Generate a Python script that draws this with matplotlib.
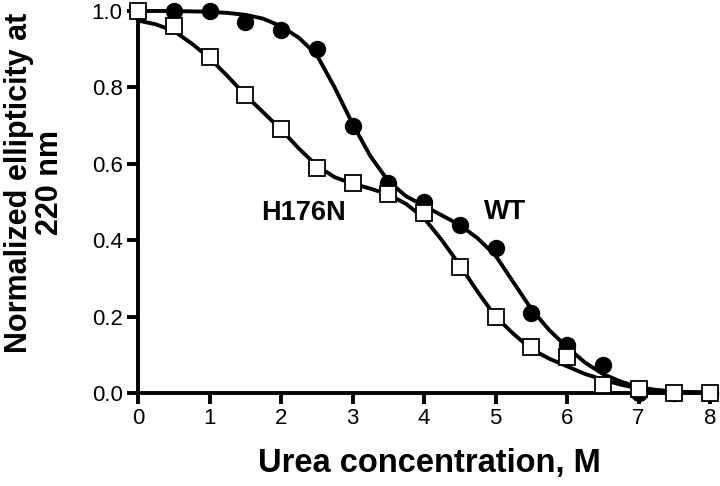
import matplotlib
matplotlib.use("Agg")
import matplotlib.pyplot as plt

plt.rcParams['font.family'] = ['Liberation Sans', 'DejaVu Sans']

# measured points
urea = [0, 0.5, 1, 1.5, 2, 2.5, 3, 3.5, 4, 4.5, 5, 5.5, 6, 6.5, 7, 7.5, 8]
wt = [1.0, 1.0, 1.0, 0.97, 0.95, 0.90, 0.70, 0.55, 0.50, 0.44, 0.38, 0.21, 0.125, 0.072, 0.0, 0.0, 0.0]
h176n = [1.0, 0.96, 0.88, 0.78, 0.69, 0.59, 0.55, 0.52, 0.47, 0.33, 0.20, 0.12, 0.095, 0.02, 0.01, 0.0, 0.0]

# fitted curves
fit_x = [0, 0.25, 0.5, 0.75, 1, 1.25, 1.5, 1.75, 2, 2.25, 2.5, 2.75, 3, 3.25, 3.5, 3.75,
         4, 4.25, 4.5, 4.75, 5, 5.25, 5.5, 5.75, 6, 6.25, 6.5, 6.75, 7, 7.25, 7.5, 7.75, 8]
wt_fit = [1.0, 1.0, 1.0, 0.999, 0.998, 0.995, 0.99, 0.98, 0.96, 0.93, 0.885, 0.80, 0.705, 0.62, 0.555, 0.515,
          0.49, 0.465, 0.44, 0.405, 0.36, 0.29, 0.22, 0.165, 0.12, 0.08, 0.05, 0.03, 0.015, 0.008, 0.004, 0.002, 0.001]
h176n_fit = [0.975, 0.965, 0.948, 0.915, 0.877, 0.83, 0.78, 0.735, 0.69, 0.64, 0.595, 0.565, 0.548, 0.535, 0.52, 0.495,
             0.458, 0.40, 0.335, 0.265, 0.20, 0.155, 0.115, 0.09, 0.07, 0.05, 0.035, 0.022, 0.012, 0.007, 0.003, 0.002, 0.001]

fig = plt.figure(figsize=(7.2, 4.86), dpi=100)
ax = fig.add_axes([138/720, 93/486, 572/720, 382/486])

ax.plot(fit_x, wt_fit, color='black', lw=2.8, clip_on=False, zorder=2)
ax.plot(fit_x, h176n_fit, color='black', lw=2.8, clip_on=False, zorder=2)
ax.plot(urea, wt, 'o', color='black', ms=11.5, clip_on=False, zorder=3)
ax.plot(urea, h176n, 's', mfc='white', mec='black', mew=1.3, ms=11.5, clip_on=False, zorder=4)

ax.text(2.31, 0.47, 'H176N', fontsize=19.5, fontweight='bold', ha='center', va='center')
ax.text(5.13, 0.474, 'WT', fontsize=19.5, fontweight='bold', ha='center', va='center')

ax.set_xlim(0, 8)
ax.set_ylim(0, 1.0)
ax.set_xticks(range(0, 9))
ax.set_yticks([0.0, 0.2, 0.4, 0.6, 0.8, 1.0])
ax.set_yticklabels(['0.0', '0.2', '0.4', '0.6', '0.8', '1.0'])

for s in ['top', 'right']:
    ax.spines[s].set_visible(False)
for s in ['left', 'bottom']:
    ax.spines[s].set_linewidth(2.8)
ax.tick_params(width=2.8, length=8, labelsize=16, direction='out', pad=3)

ax.set_xlabel('Urea concentration, M', fontsize=23.5, fontweight='bold')
ax.set_ylabel('Normalized ellipticity at\n220 nm', fontsize=22, fontweight='bold', linespacing=1.05)
ax.xaxis.set_label_coords(0.51, -0.145)
ax.yaxis.set_label_coords(-0.128, 0.55)

fig.savefig('out.png', dpi=100)
